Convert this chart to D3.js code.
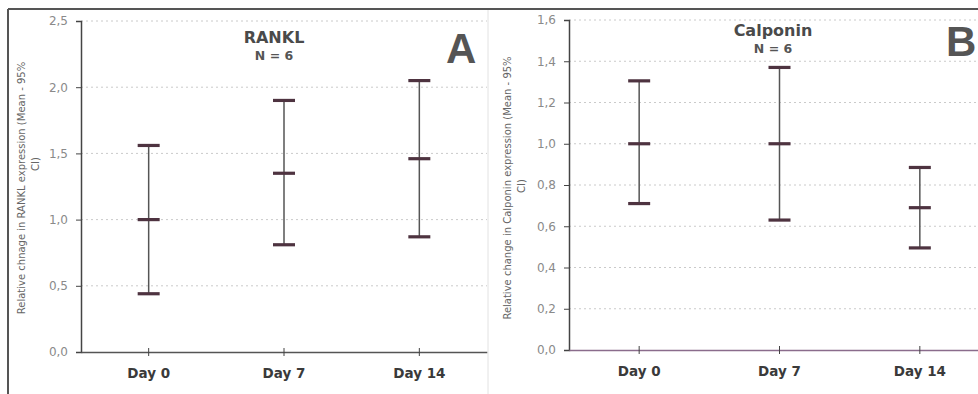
<!DOCTYPE html>
<html>
<head>
<meta charset="utf-8">
<script src="https://cdn.jsdelivr.net/npm/d3@7"></script>
<style>
  body { margin: 0; background: #fff; }
  svg { display: block; font-family: "DejaVu Sans", Verdana, sans-serif; }
</style>
</head>
<body>
<svg id="chart" width="978" height="394"></svg>
<script>
// Data
const days = ['Day 0', 'Day 7', 'Day 14'];

const ranklMean = [1.00, 1.35, 1.46];
const ranklLower = [0.44, 0.81, 0.87];
const ranklUpper = [1.56, 1.90, 2.05];
const ranklTicks = [0, 0.5, 1.0, 1.5, 2.0, 2.5];

const calpMean = [1.00, 1.00, 0.69];
const calpLower = [0.71, 0.63, 0.495];
const calpUpper = [1.305, 1.37, 0.885];
const calpTicks = [0, 0.2, 0.4, 0.6, 0.8, 1.0, 1.2, 1.4, 1.6];

const svg = d3.select('#chart');
svg.append('rect').attr('width', 978).attr('height', 394).attr('fill', '#fff');

const fmt = v => d3.format('.1f')(v).replace('.', ',');

function drawPanel(opts) {
  const g = svg.append('g');

  const x = d3.scaleBand().domain(days).range([opts.left, opts.right]);
  const y = d3.scaleLinear().domain([0, opts.max]).range([opts.bottom, opts.top]);

  // dotted grid
  g.append('g').selectAll('line')
    .data(opts.ticks.filter(t => t > 0))
    .enter()
    .append('line')
    .attr('x1', opts.left).attr('x2', opts.right)
    .attr('y1', d => y(d)).attr('y2', d => y(d))
    .attr('stroke', '#cacaca')
    .attr('stroke-width', 1)
    .attr('stroke-dasharray', '2,3');

  // y axis
  const yAxis = g.append('g')
    .attr('transform', `translate(${opts.left},0)`)
    .call(d3.axisLeft(y).tickValues(opts.ticks).tickFormat(fmt).tickSize(5).tickPadding(8));
  yAxis.select('.domain').attr('stroke', '#444').attr('stroke-width', 1.5);
  yAxis.selectAll('.tick line').attr('stroke', '#444');
  yAxis.selectAll('.tick text')
    .attr('fill', '#8a8a8a')
    .attr('font-size', '12px')
    .attr('font-family', '"DejaVu Sans", sans-serif');

  // x axis
  const xAxis = g.append('g')
    .attr('transform', `translate(0,${opts.bottom})`)
    .call(d3.axisBottom(x).tickSize(0).tickPadding(16));
  xAxis.select('.domain').attr('stroke', opts.xAxisColor).attr('stroke-width', 1.5);
  xAxis.selectAll('.tick text')
    .attr('fill', '#3a3a3a')
    .attr('font-size', '13.5px')
    .attr('font-weight', 'bold')
    .attr('font-family', '"DejaVu Sans", sans-serif');
  xAxis.selectAll('.tick').append('line')
    .attr('y1', -4).attr('y2', 4)
    .attr('stroke', '#444');

  // error bars
  const bars = g.append('g').selectAll('g')
    .data(days.map((d, i) => ({ day: d, mean: opts.mean[i], lo: opts.lower[i], hi: opts.upper[i] })))
    .enter()
    .append('g')
    .attr('transform', d => `translate(${x(d.day) + x.bandwidth() / 2},0)`);

  bars.append('line')
    .attr('y1', d => y(d.hi)).attr('y2', d => y(d.lo))
    .attr('stroke', '#555').attr('stroke-width', 1.5);

  ['hi', 'mean', 'lo'].forEach(k => {
    bars.append('line')
      .attr('x1', -11).attr('x2', 11)
      .attr('y1', d => y(d[k])).attr('y2', d => y(d[k]))
      .attr('stroke', '#4e3340').attr('stroke-width', 3.2);
  });

  // titles
  g.append('text')
    .attr('x', opts.titleX).attr('y', opts.titleY)
    .attr('text-anchor', 'middle')
    .attr('font-size', '16px').attr('font-weight', 'bold')
    .attr('fill', '#4a4a4a')
    .text(opts.title);
  g.append('text')
    .attr('x', opts.titleX).attr('y', opts.titleY + 17)
    .attr('text-anchor', 'middle')
    .attr('font-size', '12.5px').attr('font-weight', 'bold')
    .attr('fill', '#555')
    .text('N = 6');

  g.append('text')
    .attr('x', opts.letterX).attr('y', opts.letterY)
    .attr('font-size', '42px').attr('font-weight', 'bold')
    .attr('font-family', '"Liberation Sans", Arial, sans-serif')
    .attr('fill', '#555')
    .text(opts.letter);

  // rotated y label, two lines
  opts.yLabel.forEach((line, i) => {
    g.append('text')
      .attr('transform', `translate(${opts.labelX[i]},${opts.labelY[i]}) rotate(-90)`)
      .attr('text-anchor', 'middle')
      .attr('font-size', '10px')
      .attr('fill', '#666')
      .text(line);
  });
}

drawPanel({
  left: 81, right: 487, top: 21, bottom: 352, max: 2.5,
  ticks: ranklTicks, mean: ranklMean, lower: ranklLower, upper: ranklUpper,
  xAxisColor: '#555',
  title: 'RANKL', titleX: 274, titleY: 43,
  letter: 'A', letterX: 446, letterY: 63,
  yLabel: ['Relative chnage in RANKL expression (Mean - 95%', 'CI)'],
  labelX: [25, 39], labelY: [188, 164]
});

drawPanel({
  left: 569, right: 990, top: 20, bottom: 350, max: 1.6,
  ticks: calpTicks, mean: calpMean, lower: calpLower, upper: calpUpper,
  xAxisColor: '#8a6c8c',
  title: 'Calponin', titleX: 773, titleY: 36,
  letter: 'B', letterX: 946, letterY: 56,
  yLabel: ['Relative change in Calponin expression (Mean - 95%', 'CI)'],
  labelX: [511, 525], labelY: [188, 186]
});

// outer frame pieces
svg.append('line').attr('x1', 8).attr('x2', 978).attr('y1', 9).attr('y2', 9)
  .attr('stroke', '#555').attr('stroke-width', 2);
svg.append('line').attr('x1', 8).attr('x2', 8).attr('y1', 9).attr('y2', 394)
  .attr('stroke', '#555').attr('stroke-width', 2);
svg.append('line').attr('x1', 488).attr('x2', 488).attr('y1', 10).attr('y2', 394)
  .attr('stroke', '#e2e2e2').attr('stroke-width', 1);
</script>
</body>
</html>
